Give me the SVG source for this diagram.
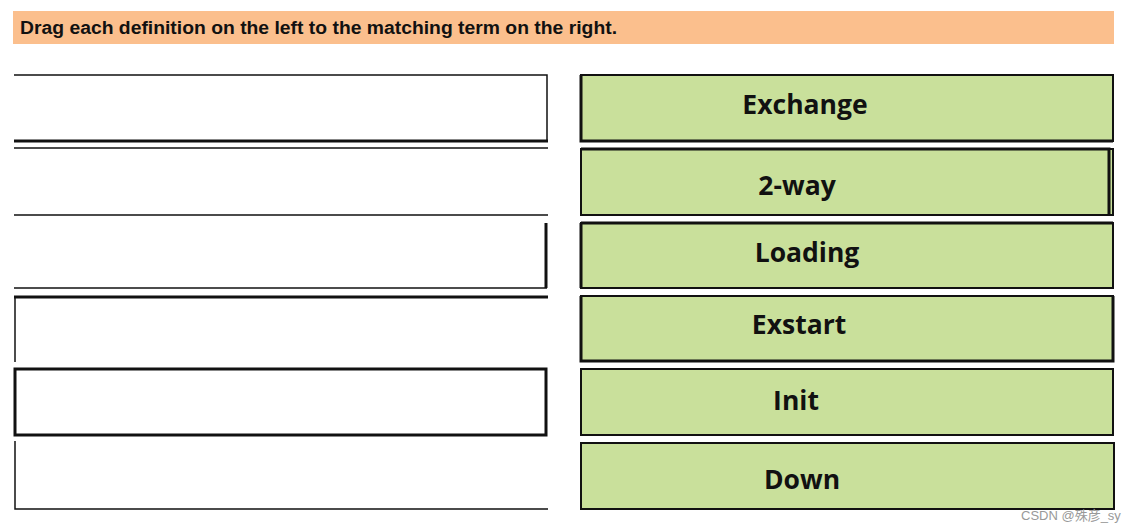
<svg xmlns="http://www.w3.org/2000/svg" width="1144" height="532" viewBox="0 0 1144 532">
<style>
.hdr{font-family:"Liberation Sans",Arial,sans-serif;font-weight:bold;font-size:18px;fill:#111}
.term{fill:#c9e09b;stroke:#111;stroke-width:2}
.lbl{font-family:"Open Sans","Noto Sans",sans-serif;font-weight:bold;font-size:26.5px;fill:#111;text-anchor:middle}
.ln{stroke:#111;stroke-width:1.5;fill:none}
.thick{stroke:#111;stroke-width:3;fill:none}
.wm{font-family:"Liberation Sans","Noto Sans CJK SC",sans-serif;font-size:13px;fill:#999}
</style>
<rect width="1144" height="532" fill="#ffffff"/>
<g id="header">
<rect x="13" y="11" width="1101" height="33" fill="#fbbf8d"/>
<text class="hdr" x="20" y="34" textLength="597" lengthAdjust="spacingAndGlyphs">Drag each definition on the left to the matching term on the right.</text>
</g>
<g id="def1">
<path class="ln" d="M14 75 H547 V141"/>
<path class="thick" d="M14 141 H548"/>
</g>
<g id="def2">
<path class="ln" d="M14 148 H548 M14 215 H548"/>
</g>
<g id="def3">
<path class="ln" d="M14 288 H547"/>
<path class="thick" d="M546 223 V288"/>
</g>
<g id="def4">
<path class="thick" d="M14 297 H548"/>
<path class="ln" d="M15 297 V362"/>
</g>
<g id="def5">
<rect x="15" y="369" width="531" height="66" fill="none" stroke="#111" stroke-width="3"/>
</g>
<g id="def6">
<path class="ln" d="M15 441 V509 H548"/>
</g>
<g id="term1">
<rect class="term" x="581" y="75" width="532" height="66"/>
<path class="thick" d="M581 75 V141 H1113"/>
<text class="lbl" x="805" y="114">Exchange</text>
</g>
<g id="term2">
<rect class="term" x="581" y="149" width="532" height="66"/>
<path class="thick" d="M581 149 H1109 V215"/>
<text class="lbl" x="797" y="195">2-way</text>
</g>
<g id="term3">
<rect class="term" x="581" y="223" width="532" height="65"/>
<path class="thick" d="M581 223 H1113 M581 223 V288"/>
<text class="lbl" x="807" y="262">Loading</text>
</g>
<g id="term4">
<rect class="term" x="581" y="296" width="532" height="65"/>
<path class="thick" d="M581 296 V361 H1113 V296"/>
<text class="lbl" x="799" y="334">Exstart</text>
</g>
<g id="term5">
<rect class="term" x="581" y="369" width="532" height="66" stroke-width="3"/>
<text class="lbl" x="796" y="410">Init</text>
</g>
<g id="term6">
<rect class="term" x="581" y="443" width="533" height="66" stroke-width="3"/>
<text class="lbl" x="802" y="489">Down</text>
</g>
<text class="wm" x="1021" y="520">CSDN @殊彦_sy</text>
</svg>
